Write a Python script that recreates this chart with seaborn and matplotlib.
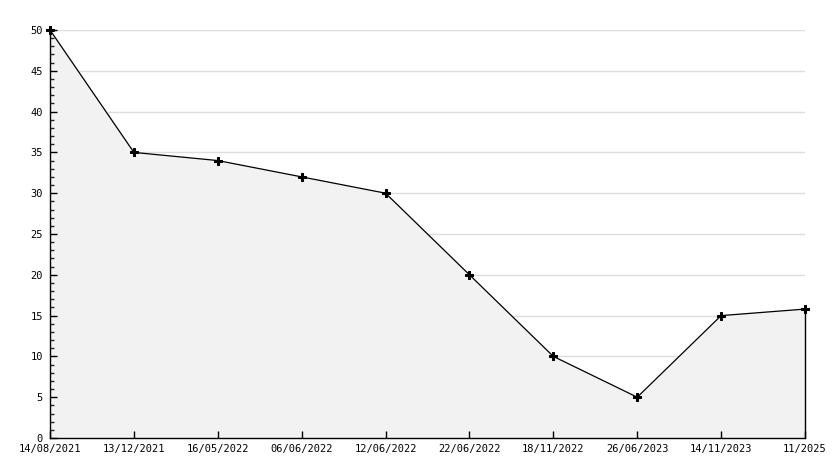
import numpy as np
import pandas as pd
import matplotlib
matplotlib.use("Agg")
import matplotlib.pyplot as plt
import seaborn as sns
from matplotlib.ticker import MultipleLocator

# values
dates = ['14/08/2021', '13/12/2021', '16/05/2022', '06/06/2022', '12/06/2022',
         '22/06/2022', '18/11/2022', '26/06/2023', '14/11/2023', '11/2025']
values = [50, 35, 34, 32, 30, 20, 10, 5, 15, 15.8]
y_ticks = [0, 5, 10, 15, 20, 25, 30, 35, 40, 45, 50]

df = pd.DataFrame({'pos': np.arange(len(dates)), 'value': values})

sns.set_style('white')
plt.rcParams['font.family'] = ['DejaVu Sans Mono']

fig = plt.figure(figsize=(8.34, 4.68), dpi=100)
ax = fig.add_axes([50 / 834, 30 / 468, 755 / 834, 408 / 468])

# horizontal grid lines, behind the shaded area
ax.hlines(y_ticks[1:], 0, len(dates) - 1, color='#dddddd', linewidth=1, zorder=0.2)

# shaded area under the line
ax.fill_between(df['pos'], 0, df['value'], color='#f2f2f2', zorder=1)
ax.plot([df['pos'].iloc[-1]] * 2, [0, df['value'].iloc[-1]], color='black', lw=1,
        zorder=2, clip_on=False)

sns.lineplot(data=df, x='pos', y='value', ax=ax, color='black', linewidth=0.9,
             marker='P', markersize=6, markeredgecolor='black', zorder=3, clip_on=False)

ax.set_xlim(0, len(dates) - 1)
ax.set_ylim(0, 50)
ax.set_xticks(df['pos'])
ax.set_xticklabels(dates)
ax.set_yticks(y_ticks)
ax.yaxis.set_minor_locator(MultipleLocator(1))
ax.grid(False)
ax.set_axisbelow(False)

ax.tick_params(axis='both', which='major', direction='in', length=5, width=1,
               labelsize=7.5, colors='black', pad=5)
ax.tick_params(axis='y', which='minor', direction='in', length=3, width=1)
ax.tick_params(axis='y', which='both', left=True)
ax.tick_params(axis='x', bottom=True, pad=4)

for s in ['top', 'right']:
    ax.spines[s].set_visible(False)
for s in ['left', 'bottom']:
    ax.spines[s].set_color('black')
    ax.spines[s].set_linewidth(1)
    ax.spines[s].set_zorder(4)

ax.set_xlabel('')
ax.set_ylabel('')

fig.savefig('out.png', dpi=100)
